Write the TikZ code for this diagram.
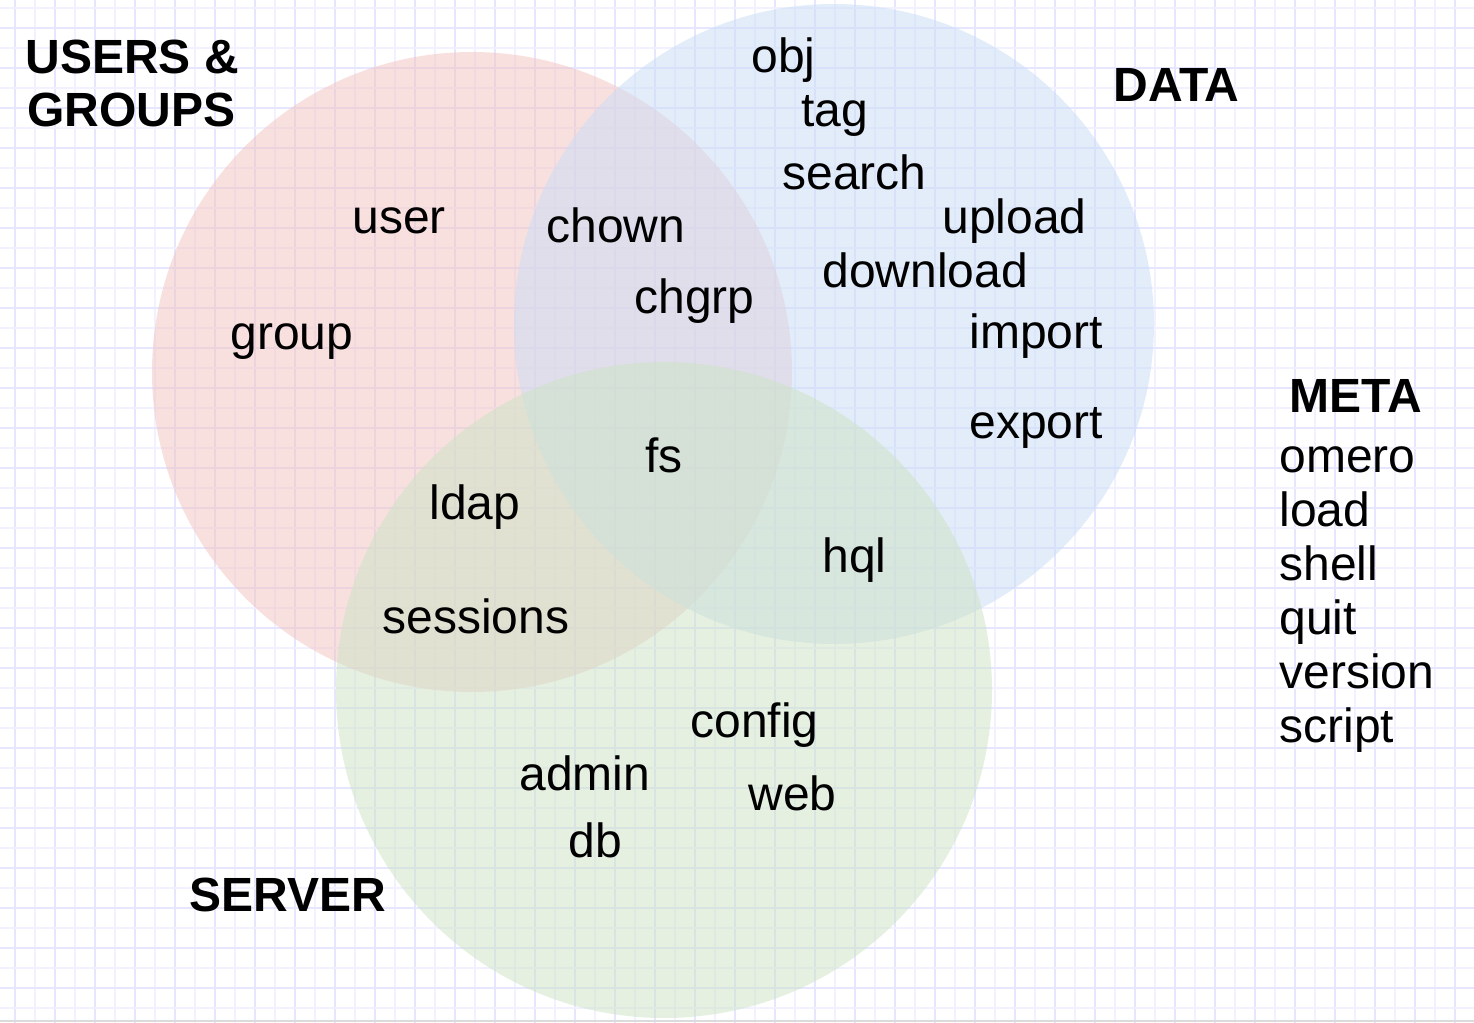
\documentclass[tikz,border=0pt]{standalone}
\usepackage{fontspec}
\setmainfont{Liberation Sans}
\definecolor{gridA}{RGB}{230,230,255}
\definecolor{gridB}{RGB}{241,241,255}
\definecolor{cred}{RGB}{243,195,193}
\definecolor{cblue}{RGB}{201,221,246}
\definecolor{cgreen}{RGB}{204,227,196}
\tikzset{
  lbl/.style={anchor=base west,inner sep=0pt,font=\fontsize{24}{28}\selectfont},
  ttl/.style={anchor=base west,inner sep=0pt,font=\fontsize{24}{28}\selectfont\bfseries},
  venn/.style={fill opacity=0.5,draw=none}
}
\begin{document}
\begin{tikzpicture}[x=0.5pt,y=-0.5pt]
\useasboundingbox (0,0) rectangle (1474,1023);
\fill[white] (0,0) rectangle (1474,1023);
% grid
\foreach \k in {0,...,73}{
  \pgfmathsetmacro{\xx}{15+20*\k}
  \ifodd\k \def\gc{gridB}\else\def\gc{gridA}\fi
  \draw[\gc,line width=1pt] (\xx,0) -- (\xx,1023);
}
\foreach \k in {0,...,50}{
  \pgfmathsetmacro{\yy}{8+20*\k}
  \ifodd\k \def\gc{gridA}\else\def\gc{gridB}\fi
  \draw[\gc,line width=1pt] (0,\yy) -- (1474,\yy);
}
\draw[black!14,line width=1pt] (0,1021) -- (1474,1021);
% circles
\fill[venn,cred] (472,372) circle[radius=320];
\fill[venn,cblue] (834,324) circle[radius=320];
\fill[venn,cgreen] (664,690) circle[radius=328];
% titles
\node[ttl] (ug1) at (25,73) {USERS \&};
\node[ttl] (ug2) at (27,126) {GROUPS};
\node[ttl] (data) at (1113,101) {DATA};
\node[ttl] (meta) at (1289,412) {META};
\node[ttl] (server) at (189,911) {SERVER};
% meta list
\node[lbl] (omero) at (1279,472) {omero};
\node[lbl] (load) at (1279,526) {load};
\node[lbl] (shell) at (1279,580) {shell};
\node[lbl] (quit) at (1279,634) {quit};
\node[lbl] (version) at (1279,688) {version};
\node[lbl] (script) at (1279,742) {script};
% data
\node[lbl] (obj) at (751,72) {obj};
\node[lbl] (tag) at (801,126) {tag};
\node[lbl] (search) at (782,189) {search};
\node[lbl] (upload) at (942,233) {upload};
\node[lbl] (download) at (822,287) {download};
\node[lbl] (import) at (969,348) {import};
\node[lbl] (export) at (969,438) {export};
% users & groups
\node[lbl] (user) at (352,233) {user};
\node[lbl] (group) at (230,349) {group};
\node[lbl] (chown) at (546,242) {chown};
\node[lbl] (chgrp) at (634,313) {chgrp};
% center
\node[lbl] (fs) at (645,472) {fs};
\node[lbl] (ldap) at (429,519) {ldap};
\node[lbl] (hql) at (822,572) {hql};
\node[lbl] (sessions) at (382,633) {sessions};
% server
\node[lbl] (config) at (690,737) {config};
\node[lbl] (admin) at (519,790) {admin};
\node[lbl] (web) at (748,810) {web};
\node[lbl] (db) at (568,857) {db};
\end{tikzpicture}
\end{document}
